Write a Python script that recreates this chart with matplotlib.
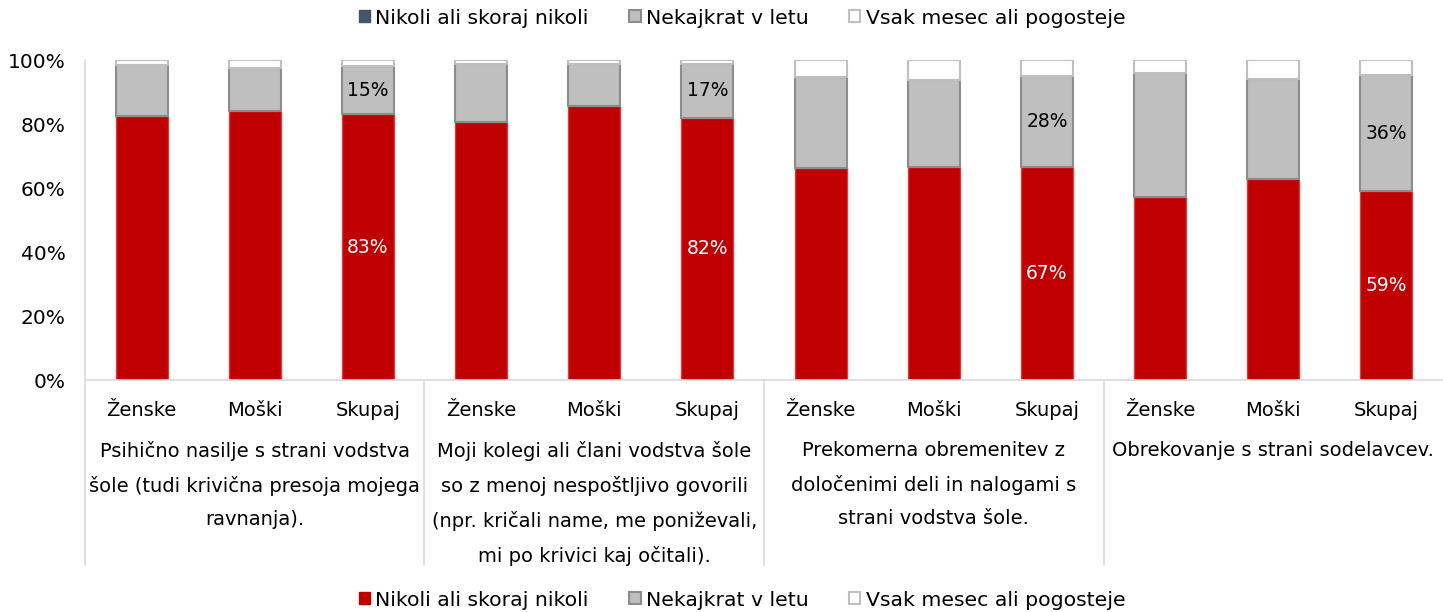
import matplotlib
matplotlib.use("Agg")
from matplotlib import pyplot as plt
from matplotlib.patches import Patch
from matplotlib.ticker import PercentFormatter
import numpy as np

plt.rcParams['font.family'] = ['DejaVu Sans']

# Data (percent)
groups = ["Psihično nasilje s strani vodstva\nšole (tudi krivična presoja mojega\nravnanja).",
          "Moji kolegi ali člani vodstva šole\nso z menoj nespoštljivo govorili\n(npr. kričali name, me poniževali,\nmi po krivici kaj očitali).",
          "Prekomerna obremenitev z\ndoločenimi deli in nalogami s\nstrani vodstva šole.",
          "Obrekovanje s strani sodelavcev."]
subcats = ["Ženske", "Moški", "Skupaj"]
series = ["Nikoli ali skoraj nikoli", "Nekajkrat v letu", "Vsak mesec ali pogosteje"]

nikoli = [82.5, 84.2, 83.1, 80.7, 85.6, 82.0, 66.2, 66.7, 66.6, 57.3, 62.8, 59.0]
nekajkrat = [15.8, 13.4, 15.0, 18.2, 13.1, 16.8, 28.6, 27.1, 28.4, 38.5, 31.2, 36.3]
vsak = [100 - a - b for a, b in zip(nikoli, nekajkrat)]

red = '#C00000'
grey = '#BFBFBF'
navy = '#44546A'

fig = plt.figure(figsize=(14.43, 6.12), dpi=100)
ax = fig.add_axes([85/1443, 1 - 380/612, 1 - 85/1443, 320/612])

x = np.arange(len(nikoli))
w = 0.46
nik = np.array(nikoli)
nek = np.array(nekajkrat)
vs = np.array(vsak)
ax.bar(x, nik, w, color=red, edgecolor='#D44040', linewidth=1.0)
ax.bar(x, nek, w, bottom=nik, color=grey, edgecolor='#8C8C8C', linewidth=1.5)
ax.bar(x, vs, w, bottom=nik + nek, color='white', edgecolor='#BFBFBF', linewidth=1.5)

# labels on "Skupaj" bars
for i in range(2, len(x), 3):
    ax.text(x[i], nik[i] / 2, f"{nik[i]:.0f}%", ha='center', va='center', color='white', fontsize=13.5)
    ax.text(x[i], nik[i] + nek[i] / 2, f"{nek[i]:.0f}%", ha='center', va='center', color='black', fontsize=13.5)

ax.set_xlim(-0.5, len(x) - 0.5)
ax.set_ylim(0, 100)
ax.yaxis.set_major_formatter(PercentFormatter(decimals=0))
ax.set_yticks(np.arange(0, 101, 20))
ax.tick_params(axis='y', length=0, labelsize=14.5, pad=14)
ax.tick_params(axis='x', length=0)
ax.set_xticks([])
for s in ['top', 'right']:
    ax.spines[s].set_visible(False)
ax.spines['left'].set_color('#D9D9D9')
ax.spines['bottom'].set_color('#D9D9D9')
ax.spines['left'].set_linewidth(1.2)
ax.spines['bottom'].set_linewidth(1.2)

trans = ax.get_xaxis_transform()
for i, xi in enumerate(x):
    ax.text(xi, -0.095, subcats[i % 3], transform=trans, ha='center', va='center', fontsize=14)
for g in range(len(groups)):
    ax.text(3 * g + 1, -0.19, groups[g], transform=trans, ha='center', va='top',
            fontsize=14, linespacing=1.95)
    ax.plot([3 * g - 0.5, 3 * g - 0.5], [0, -0.578], transform=trans, color='#D9D9D9',
            linewidth=1.2, clip_on=False)

def legend_handles(first):
    return [Patch(facecolor=first, edgecolor=first),
            Patch(facecolor=grey, edgecolor='#8C8C8C', linewidth=1.5),
            Patch(facecolor='white', edgecolor='#BFBFBF', linewidth=1.5)]

for yy, col in [(18, navy), (600, red)]:
    fig.legend(legend_handles(col), series, loc='center', bbox_to_anchor=(742/1443, 1 - yy/612),
               ncol=3, frameon=False, fontsize=14.7, handlelength=0.55, handleheight=0.55,
               handletextpad=0.25, columnspacing=2.0)

fig.savefig("out.png", dpi=100)
